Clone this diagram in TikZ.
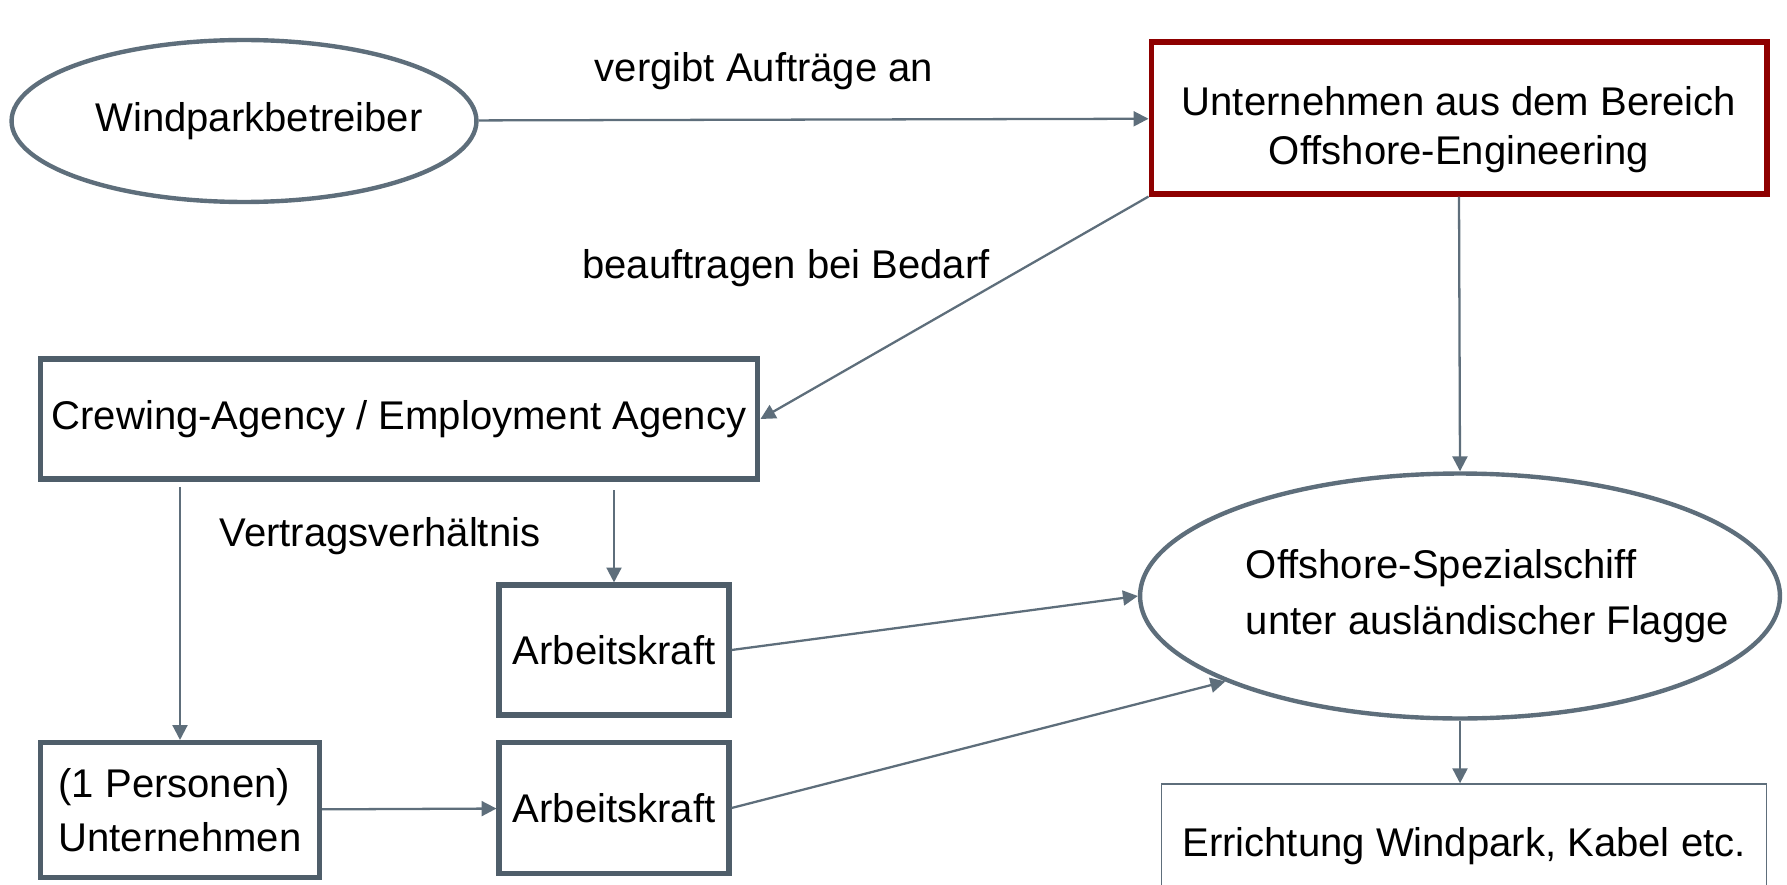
\documentclass[tikz,border=0pt]{standalone}
\usepackage{fontspec}
\setmainfont{Liberation Sans}
\usetikzlibrary{shapes.geometric,arrows.meta,positioning}
\definecolor{slate}{HTML}{5E6E7B}
\definecolor{slatedark}{HTML}{4F5E6A}
\definecolor{rahmenrot}{HTML}{8E0000}

\begin{document}
\begin{tikzpicture}[x=0.02cm,y=-0.02cm,
  font=\fontsize{22.8}{30}\selectfont,
  kasten/.style={draw=slatedark,line width=2.9pt,inner sep=0pt},
  oval/.style={ellipse,draw=slate,line width=2.5pt,inner sep=0pt},
  pfeil/.style={draw=slate,line width=1.3pt,-{Triangle[length=8.5pt,width=8.5pt]}}]
\useasboundingbox (0,0) rectangle (1787,885);
\node[oval,inner xsep=-0.5cm,minimum width=9.3cm,minimum height=3.24cm] (wpb) at (244,121)
  {\hspace*{0.6cm}Windparkbetreiber};
\node[kasten,draw=rahmenrot,minimum width=12.32cm,minimum height=3.04cm,align=center,
  font=\fontsize{22.8}{28}\selectfont] (oe) at (1459,118)
  {\rule{0pt}{1.05cm}Unternehmen aus dem Bereich\\Offshore-Engineering};
\node[kasten,minimum width=14.36cm,minimum height=2.4cm] (crew) at (399,419)
  {Crewing-Agency / Employment Agency};
\node[kasten,minimum width=4.6cm,minimum height=2.6cm] (ak1) at (614,650) {Arbeitskraft};
\node[kasten,minimum width=4.6cm,minimum height=2.62cm] (ak2) at (614,808) {Arbeitskraft};
\node[kasten,minimum width=5.58cm,minimum height=2.7cm,align=left,
  font=\fontsize{22.8}{31}\selectfont] (pu) at (180,810) {(1 Personen)\\Unternehmen};
\node[oval,inner xsep=-1cm,minimum width=12.8cm,minimum height=4.9cm,align=left,
  font=\fontsize{22.8}{32}\selectfont] (schiff) at (1460,596)
  {\hspace*{1.1cm}Offshore-Spezialschiff\\\hspace*{1.1cm}unter ausländischer Flagge};
\node[draw=slate,line width=0.8pt,minimum width=12.1cm,minimum height=2.48cm,inner sep=0pt]
  (err) at (1464,846) {Errichtung Windpark, Kabel etc.};
\node (vergibt) at (764,71) {vergibt Aufträge an};
\node (bedarf) at (786,268) {beauftragen bei Bedarf};
\node (vertrag) at (380,536) {Vertragsverhältnis};

\draw[pfeil] (wpb) -- (oe);
\draw[pfeil] (oe.south west) -- (crew.east);
\draw[pfeil] (oe.south) -- (schiff.north);
\draw[pfeil] ([yshift=-3pt]crew.south -| pu.north) -- (pu.north);
\draw[pfeil] ([yshift=-5pt]crew.south -| ak1.north) -- (ak1.north);
\draw[pfeil] (pu) -- (ak2);
\draw[pfeil] (ak1.east) -- (schiff.west);
\draw[pfeil] (ak2.east) -- (schiff.200);
\draw[pfeil] (schiff.south) -- (schiff.south |- err.north);
\end{tikzpicture}
\end{document}
